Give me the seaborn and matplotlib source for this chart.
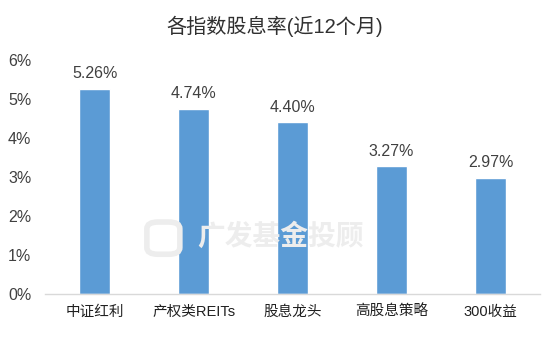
import matplotlib
matplotlib.use("Agg")
import matplotlib.pyplot as plt
import seaborn as sns
import pandas as pd
from matplotlib.ticker import FuncFormatter
from matplotlib.patches import FancyBboxPatch

categories = ["中证红利", "产权类REITs", "股息龙头", "高股息策略", "300收益"]
values = [5.26, 4.74, 4.40, 3.27, 2.97]
title = "各指数股息率(近12个月)"

sns.set_theme(style="white")
plt.rcParams['font.family'] = ['Liberation Sans', 'Noto Sans CJK SC']

df = pd.DataFrame({"cat": categories, "val": values})

fig = plt.figure(figsize=(5.5, 3.39), dpi=100)
ax = fig.add_axes([0.082, 0.133, 0.9, 0.69])

# watermark
fig.text(0.51, 0.30, "广发基金投顾", ha="center", va="center",
         fontsize=20, fontweight="bold", color="#EDEDED", zorder=0,
         family=['Noto Sans CJK SC'])
logo = FancyBboxPatch((0.272, 0.255), 0.05, 0.085, boxstyle="round,pad=0.005,rounding_size=0.02",
                      transform=fig.transFigure, facecolor="none", edgecolor="#EDEDED",
                      linewidth=4, zorder=0)
fig.patches.append(logo)

sns.barplot(data=df, x="cat", y="val", color="#5B9BD5", width=0.31,
            saturation=1, ax=ax, zorder=2)
ax.patch.set_alpha(0)

ax.set_ylim(0, 6)
ax.set_xlim(-0.5, len(categories) - 0.5)
ax.set_yticks(range(0, 7))
ax.yaxis.set_major_formatter(FuncFormatter(lambda v, p: f"{int(v)}%"))
ax.set_xlabel("")
ax.set_ylabel("")
for s in ["top", "right", "left"]:
    ax.spines[s].set_visible(False)
ax.spines["bottom"].set_color("#D9D9D9")
ax.spines["bottom"].set_linewidth(1.0)
ax.tick_params(axis="y", length=0, labelsize=11.5, colors="#404040", pad=10)
ax.tick_params(axis="x", length=0, labelsize=10.5, colors="#202020", pad=8)

for i, v in enumerate(values):
    ax.text(i, v + 0.2, f"{v:.2f}%", ha="center", va="bottom",
            fontsize=11.5, color="#404040")

fig.suptitle(title, x=0.5, y=0.955, fontsize=14.5, color="#303030")

fig.savefig("out.png", dpi=100)
